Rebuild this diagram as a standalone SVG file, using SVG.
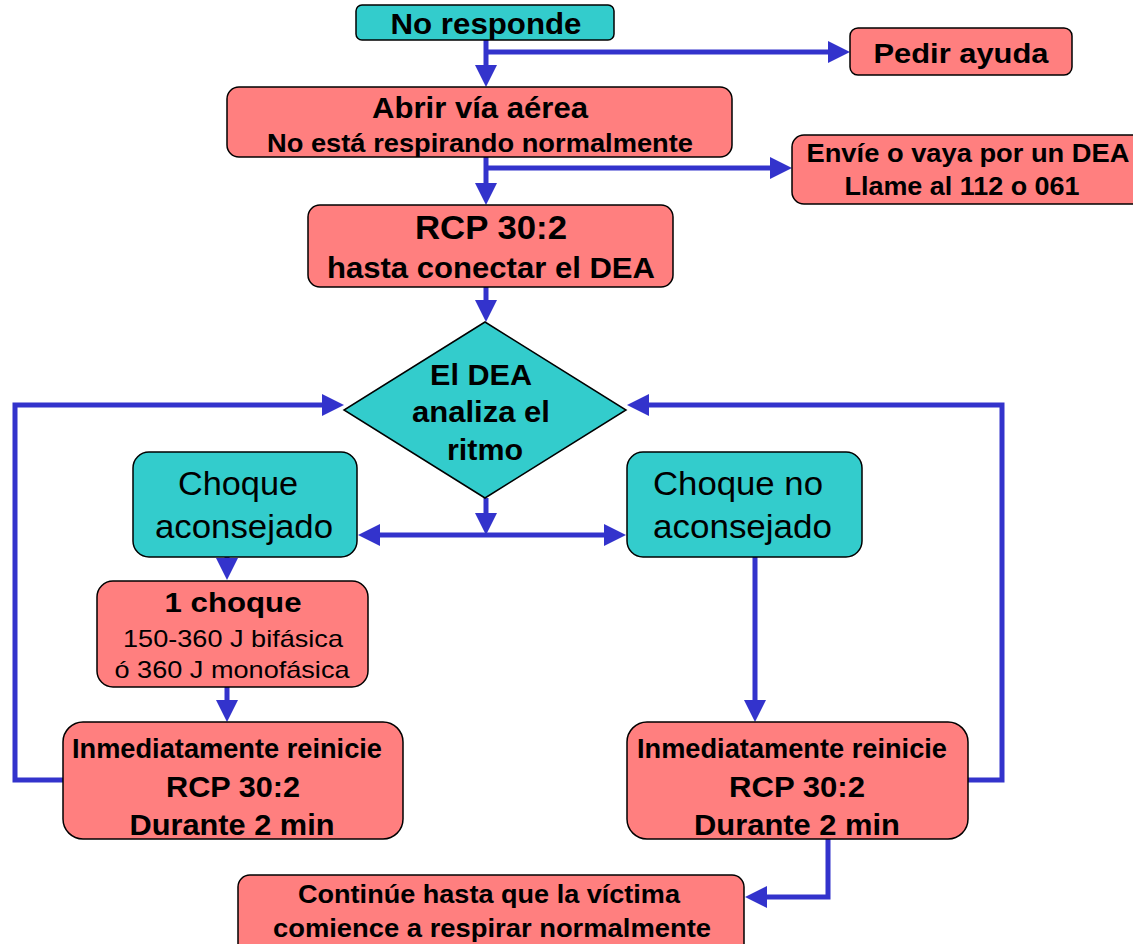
<svg xmlns="http://www.w3.org/2000/svg" width="1133" height="944" viewBox="0 0 1133 944">
<style>
.teal{fill:#33CCCC;stroke:#000;stroke-width:1.5}
.red{fill:#FF7F7F;stroke:#000;stroke-width:1.5}
.b{font-family:"Liberation Sans",Arial,sans-serif;font-weight:bold;fill:#000;text-anchor:middle}
.r{font-family:"Liberation Sans",Arial,sans-serif;font-weight:normal;fill:#000;text-anchor:middle}
.c{fill:none;stroke:#3333CC;stroke-width:5;marker-end:url(#ah)}
</style>
<defs>
<marker id="ah" markerUnits="userSpaceOnUse" markerWidth="22" markerHeight="22" refX="0" refY="11" orient="auto-start-reverse" viewBox="0 0 22 22">
<path d="M0,0 L22,11 L0,22 z" fill="#3333CC"/>
</marker>
</defs>
<g id="connectors">
<path class="c" d="M486,40 V65"/>
<path class="c" d="M486,52 H828"/>
<path class="c" d="M486,157 V183"/>
<path class="c" d="M486,168 H770"/>
<path class="c" d="M486,287 V300"/>
<path class="c" d="M486,498 V513"/>
<path class="c" d="M380,535 H604" style="marker-start:url(#ah)"/>
<path class="c" d="M227,547 V558"/>
<path class="c" d="M227,687 V700"/>
<path class="c" d="M63,780 H15 V405 H322"/>
<path class="c" d="M755,557 V700"/>
<path class="c" d="M968,780 H1002 V405 H649"/>
<path class="c" d="M828,839 V897 H767"/>
</g>
<g id="no-responde">
<rect class="teal" x="356" y="5" width="258" height="35" rx="6"/>
<text class="b" x="486" y="34" font-size="29" textLength="191" lengthAdjust="spacingAndGlyphs">No responde</text>
</g>
<g id="pedir-ayuda">
<rect class="red" x="850" y="28" width="222" height="47" rx="8"/>
<text class="b" x="961" y="63" font-size="28" textLength="175" lengthAdjust="spacingAndGlyphs">Pedir ayuda</text>
</g>
<g id="abrir">
<rect class="red" x="227" y="87" width="505" height="70" rx="12"/>
<text class="b" x="480" y="118" font-size="29" textLength="216" lengthAdjust="spacingAndGlyphs">Abrir vía aérea</text>
<text class="b" x="480" y="152" font-size="26" textLength="426" lengthAdjust="spacingAndGlyphs">No está respirando normalmente</text>
</g>
<g id="envie">
<rect class="red" x="792" y="135" width="360" height="69" rx="12"/>
<text class="b" x="968" y="162" font-size="25" textLength="323" lengthAdjust="spacingAndGlyphs">Envíe o vaya por un DEA</text>
<text class="b" x="962" y="195" font-size="25" textLength="235" lengthAdjust="spacingAndGlyphs">Llame al 112 o 061</text>
</g>
<g id="rcp">
<rect class="red" x="308" y="205" width="365" height="82" rx="12"/>
<text class="b" x="491" y="239" font-size="33" textLength="152" lengthAdjust="spacingAndGlyphs">RCP 30:2</text>
<text class="b" x="491" y="278" font-size="29" textLength="328" lengthAdjust="spacingAndGlyphs">hasta conectar el DEA</text>
</g>
<g id="dea-analiza">
<polygon class="teal" points="485,322 626,410 485,498 344,410"/>
<text class="b" x="481" y="385" font-size="29" textLength="102" lengthAdjust="spacingAndGlyphs">El DEA</text>
<text class="b" x="481" y="422" font-size="29" textLength="138" lengthAdjust="spacingAndGlyphs">analiza el</text>
<text class="b" x="485" y="460" font-size="29" textLength="76" lengthAdjust="spacingAndGlyphs">ritmo</text>
</g>
<g id="choque-aconsejado">
<rect class="teal" x="133" y="452" width="224" height="105" rx="16"/>
<text class="r" x="238" y="495" font-size="33" textLength="120" lengthAdjust="spacingAndGlyphs">Choque</text>
<text class="r" x="244" y="538" font-size="33" textLength="178" lengthAdjust="spacingAndGlyphs">aconsejado</text>
</g>
<g id="choque-no-aconsejado">
<rect class="teal" x="627" y="452" width="235" height="105" rx="16"/>
<text class="r" x="653" y="495" font-size="33" style="text-anchor:start" textLength="170" lengthAdjust="spacingAndGlyphs">Choque no</text>
<text class="r" x="653" y="538" font-size="33" style="text-anchor:start" textLength="179" lengthAdjust="spacingAndGlyphs">aconsejado</text>
</g>
<g id="un-choque">
<rect class="red" x="97" y="581" width="271" height="106" rx="16"/>
<text class="b" x="233" y="612" font-size="28" textLength="137" lengthAdjust="spacingAndGlyphs">1 choque</text>
<text class="r" x="233" y="647" font-size="24" textLength="220" lengthAdjust="spacingAndGlyphs">150-360 J bifásica</text>
<text class="r" x="232" y="678" font-size="24" textLength="235" lengthAdjust="spacingAndGlyphs">ó 360 J monofásica</text>
</g>
<g id="reinicie-izq">
<rect class="red" x="63" y="722" width="340" height="117" rx="20"/>
<text class="b" x="227" y="758" font-size="27" textLength="310" lengthAdjust="spacingAndGlyphs">Inmediatamente reinicie</text>
<text class="b" x="233" y="797" font-size="30" textLength="134" lengthAdjust="spacingAndGlyphs">RCP 30:2</text>
<text class="b" x="232" y="835" font-size="30" textLength="205" lengthAdjust="spacingAndGlyphs">Durante 2 min</text>
</g>
<g id="reinicie-der">
<rect class="red" x="627" y="722" width="341" height="117" rx="20"/>
<text class="b" x="792" y="758" font-size="27" textLength="310" lengthAdjust="spacingAndGlyphs">Inmediatamente reinicie</text>
<text class="b" x="797" y="797" font-size="30" textLength="136" lengthAdjust="spacingAndGlyphs">RCP 30:2</text>
<text class="b" x="797" y="835" font-size="30" textLength="206" lengthAdjust="spacingAndGlyphs">Durante 2 min</text>
</g>
<g id="continue">
<rect class="red" x="238" y="875" width="506" height="90" rx="12"/>
<text class="b" x="489" y="903" font-size="26" textLength="382" lengthAdjust="spacingAndGlyphs">Continúe hasta que la víctima</text>
<text class="b" x="492" y="937" font-size="26" textLength="438" lengthAdjust="spacingAndGlyphs">comience a respirar normalmente</text>
</g>
</svg>
